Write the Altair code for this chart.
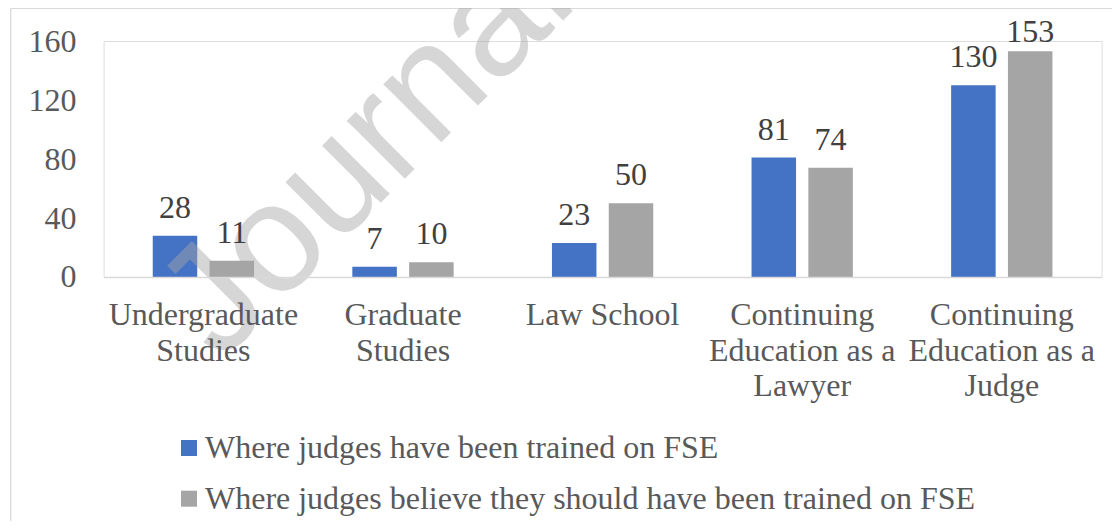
import altair as alt
import pandas as pd

categories = [
    "Undergraduate|Studies",
    "Graduate|Studies",
    "Law School",
    "Continuing|Education as a|Lawyer",
    "Continuing|Education as a|Judge",
]
series_names = [
    "Where judges have been trained on FSE",
    "Where judges believe they should have been trained on FSE",
]
trained = [28, 7, 23, 81, 130]
should_have = [11, 10, 50, 74, 153]
series_colors = ["#4472C4", "#A5A5A5"]
y_ticks = [0, 40, 80, 120, 160]

rows = []
for i, c in enumerate(categories):
    rows.append({"category": c, "series": series_names[0], "value": trained[i]})
    rows.append({"category": c, "series": series_names[1], "value": should_have[i]})
df = pd.DataFrame(rows)

FONT = "Liberation Serif"
FS = 32
W, H = 998, 236

x_enc = alt.X(
    "category:N",
    sort=categories,
    scale=alt.Scale(paddingInner=0, paddingOuter=0),
    axis=alt.Axis(
        title=None,
        labelAngle=0,
        labelExpr="split(datum.label, '|')",
        labelFont=FONT,
        labelFontSize=FS,
        labelColor="#595959",
        labelLineHeight=35.5,
        labelPadding=22.7,
        labelLimit=400,
        ticks=False,
        domainColor="#D9D9D9",
        domainWidth=1.5,
        grid=False,
        zindex=1,
    ),
)
xo_enc = alt.XOffset(
    "series:N",
    sort=series_names,
    scale=alt.Scale(paddingInner=0.2165, paddingOuter=0.865),
)

bars = alt.Chart(df).mark_bar().encode(
    x=x_enc,
    xOffset=xo_enc,
    y=alt.Y(
        "value:Q",
        scale=alt.Scale(domain=[0, 160], nice=False),
        axis=alt.Axis(
            title=None,
            values=y_ticks,
            labelFont=FONT,
            labelFontSize=FS,
            labelColor="#595959",
            labelPadding=27.6,
            ticks=False,
            domain=False,
            grid=False,
            zindex=1,
        ),
    ),
    color=alt.Color(
        "series:N",
        sort=series_names,
        scale=alt.Scale(domain=series_names, range=series_colors),
        legend=alt.Legend(
            title=None,
            orient="none",
            legendX=69.4,
            legendY=391,
            direction="vertical",
            symbolType="square",
            symbolSize=256,
            symbolStrokeWidth=0,
            labelFont=FONT,
            labelFontSize=FS,
            labelColor="#595959",
            labelOffset=0,
            labelLimit=900,
            rowPadding=18.7,
            padding=0,
        ),
    ),
)

labels = alt.Chart(df).transform_calculate(
    pos="min(datum.value, 147)"
).mark_text(
    font=FONT, fontSize=FS, color="#404040", baseline="alphabetic", dy=-18
).encode(
    x=alt.X("category:N", sort=categories),
    xOffset=alt.XOffset("series:N", sort=series_names),
    y=alt.Y("pos:Q"),
    text=alt.Text("value:Q"),
)

deco = pd.DataFrame({"k": [0]})
frame_left = alt.Chart(deco).mark_rule(color="#D9D9D9", strokeWidth=1.3).encode(
    x=alt.value(-92.9), y=alt.value(-32.6), y2=alt.value(480)
)
frame_top = alt.Chart(deco).mark_rule(color="#D9D9D9", strokeWidth=1.3).encode(
    x=alt.value(-92.9), x2=alt.value(1010), y=alt.value(-32.6)
)
watermark = alt.Chart(deco).mark_text(
    text="Journal Pre-proof",
    font="Liberation Sans",
    fontSize=155,
    angle=315,
    align="left",
    baseline="alphabetic",
    color="#A6A6A6",
    opacity=0.45,
).encode(x=alt.value(117), y=alt.value(322))

chart = alt.layer(frame_left, frame_top, bars, watermark, labels).properties(
    width=W,
    height=H,
    autosize=alt.AutoSizeParams(type="none"),
    padding={"left": 95.6, "top": 33, "right": 10, "bottom": 245},
).configure_view(stroke=None).configure(background="white")

chart.save("out.html", embed_options={"renderer": "svg", "actions": False})
